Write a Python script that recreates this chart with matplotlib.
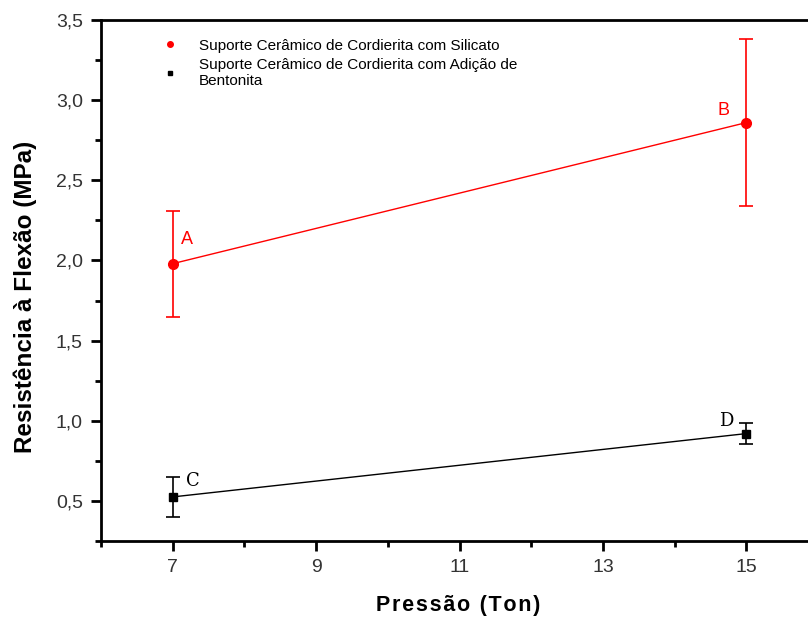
import matplotlib.pyplot as plt
from matplotlib.lines import Line2D
import numpy as np

plt.rcParams['font.family'] = ['Liberation Sans', 'DejaVu Sans']

# dados
pressao = [7, 15]
silicato = [1.98, 2.86]
silicato_err = [0.33, 0.52]
bentonita = [0.525, 0.92]
bentonita_err = [0.125, 0.068]
rotulos_sil = ['A', 'B']
rotulos_ben = ['C', 'D']
legenda = ['Suporte Cerâmico de Cordierita com Silicato',
           'Suporte Cerâmico de Cordierita com Adição de\nBentonita']

fig = plt.figure(figsize=(8.08, 6.19), dpi=100)
ax = fig.add_axes([101/808, 78/619, 717/808, 521/619])

ax.errorbar(pressao, silicato, yerr=silicato_err, color='red', marker='o', ms=7,
            lw=1, elinewidth=1.2, capsize=5, capthick=1.2)
ax.errorbar(pressao, bentonita, yerr=bentonita_err, color='black', marker='s', ms=6,
            lw=1, elinewidth=1.2, capsize=5, capthick=1.2)

ax.text(pressao[0] + 0.12, silicato[0] + 0.12, rotulos_sil[0], color='red', fontsize=13)
ax.text(pressao[1] - 0.4, silicato[1] + 0.05, rotulos_sil[1], color='red', fontsize=13)
ax.text(pressao[0] + 0.18, bentonita[0] + 0.07, rotulos_ben[0], color='black', fontsize=13,
        family='DejaVu Serif')
ax.text(pressao[1] - 0.38, bentonita[1] + 0.05, rotulos_ben[1], color='black', fontsize=13,
        family='DejaVu Serif')

ax.set_xlim(6, 16)
ax.set_ylim(0.25, 3.5)
ax.set_xticks([7, 9, 11, 13, 15])
ax.set_xticks([6, 8, 10, 12, 14, 16], minor=True)
ax.set_yticks([0.5, 1.0, 1.5, 2.0, 2.5, 3.0, 3.5])
ax.set_yticks([0.25, 0.75, 1.25, 1.75, 2.25, 2.75, 3.25], minor=True)
ax.set_yticklabels(['0,5', '1,0', '1,5', '2,0', '2,5', '3,0', '3,5'])

ax.tick_params(which='major', direction='out', length=7, width=2, labelsize=14,
               labelcolor='#333333', pad=6)
ax.tick_params(which='minor', direction='out', length=4, width=2)
for s in ax.spines.values():
    s.set_linewidth(2)

# letras um pouco espacadas como no original
ax.set_xlabel('\u200a'.join('Pressão (Ton)'), fontsize=15.5, fontweight='bold')
ax.xaxis.set_label_coords((458 - 101) / 717, -(606 - 541) / 521)
ax.xaxis.label.set_va('center')
ax.set_ylabel('Resistência à Flexão (MPa)', fontsize=17.5, fontweight='bold')
ax.yaxis.set_label_coords(-(101 - 25) / 717, (541 - 297) / 521)
ax.yaxis.label.set_va('center')

handles = [Line2D([], [], ls='none', marker='o', color='red', ms=4),
           Line2D([], [], ls='none', marker='s', color='black', ms=3.5)]
ax.legend(handles, legenda, loc='upper left', bbox_to_anchor=(0.07, 0.985), frameon=False,
          fontsize=11, handlelength=1.0, handletextpad=1.4, labelspacing=0.35,
          borderaxespad=0.3)

fig.savefig('out.png', dpi=100)
